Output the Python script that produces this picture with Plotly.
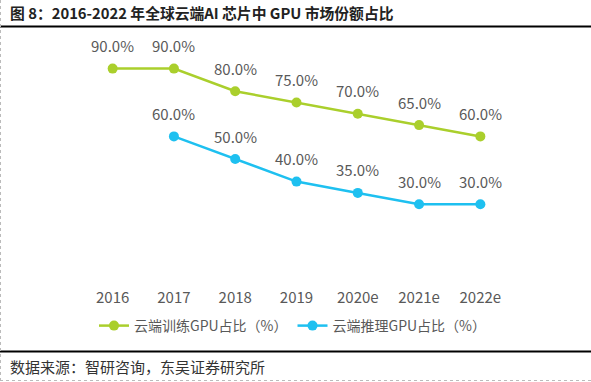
import plotly.graph_objects as go

years = ["2016", "2017", "2018", "2019", "2020e", "2021e", "2022e"]
train_share = [90, 90, 80, 75, 70, 65, 60]
infer_years = ["2017", "2018", "2019", "2020e", "2021e", "2022e"]
infer_share = [60, 50, 40, 35, 30, 30]

train_name = "云端训练GPU占比（%）"
infer_name = "云端推理GPU占比（%）"
title_text = "图 8：2016-2022 年全球云端AI 芯片中 GPU 市场份额占比"
source_text = "数据来源：智研咨询，东吴证券研究所"

GREEN = "#AACF2C"
BLUE = "#1EC0F0"
TXT = "#595959"
FONT = "Noto Sans CJK SC"

fig = go.Figure()
fig.add_trace(go.Scatter(x=years, y=train_share, name=train_name, mode="lines+markers",
                         line=dict(color=GREEN, width=2.5), marker=dict(size=10, color=GREEN)))
fig.add_trace(go.Scatter(x=infer_years, y=infer_share, name=infer_name, mode="lines+markers",
                         line=dict(color=BLUE, width=2.5), marker=dict(size=10, color=BLUE)))

W, H = 591, 382
L, R, T, B = 82, 80, 46, 110

def px_x(p):
    return (p - L) / (W - L - R)

def px_y(p):
    return (H - B - p) / (H - T - B)

anns = []
for xs, ys in ((years, train_share), (infer_years, infer_share)):
    for x, y in zip(xs, ys):
        anns.append(dict(x=years.index(x), y=y, xref="x", yref="y", text=f"{y:.1f}%", showarrow=False,
                         yshift=23, font=dict(size=15, color=TXT, family=FONT)))
anns.append(dict(x=px_x(8), y=px_y(12), xref="paper", yref="paper", text=f"<b>{title_text}</b>",
                 showarrow=False, xanchor="left", yanchor="middle",
                 font=dict(size=14.8, color="#222", family=FONT)))
anns.append(dict(x=px_x(8), y=px_y(366), xref="paper", yref="paper", text=source_text,
                 showarrow=False, xanchor="left", yanchor="middle",
                 font=dict(size=15, color="#333", family=FONT)))

shapes = [
    dict(type="line", xref="paper", yref="paper", x0=px_x(0), x1=px_x(591), y0=px_y(26.5), y1=px_y(26.5),
         line=dict(color="black", width=2)),
    dict(type="line", xref="paper", yref="paper", x0=px_x(0), x1=px_x(591), y0=px_y(351.5), y1=px_y(351.5),
         line=dict(color="black", width=2)),
    dict(type="line", xref="paper", yref="paper", x0=px_x(0.5), x1=px_x(0.5), y0=px_y(0), y1=px_y(381),
         line=dict(color="#BBBBBB", width=1, dash="dot")),
    dict(type="line", xref="paper", yref="paper", x0=px_x(0), x1=px_x(591), y0=px_y(380.5), y1=px_y(380.5),
         line=dict(color="#BBBBBB", width=1, dash="dot")),
]

fig.update_layout(
    width=W, height=H, margin=dict(l=L, r=R, t=T, b=B),
    paper_bgcolor="white", plot_bgcolor="white",
    annotations=anns, shapes=shapes,
    showlegend=True,
    legend=dict(orientation="h", x=px_x(292.5), xanchor="center", y=px_y(326), yanchor="middle",
                font=dict(size=14, color=TXT, family=FONT), itemwidth=30),
    xaxis=dict(type="category", categoryorder="array", categoryarray=years, range=[-0.5, 6.5],
               showgrid=False, zeroline=False, showline=False, ticks="outside", ticklen=12,
               tickcolor="rgba(0,0,0,0)", tickfont=dict(size=15, color=TXT, family=FONT)),
    yaxis=dict(range=[0, 100], visible=False),
)

fig.write_html("out.html", config={"displayModeBar": False},
               post_script="document.body.style.margin='0';document.body.style.overflow='hidden';")
